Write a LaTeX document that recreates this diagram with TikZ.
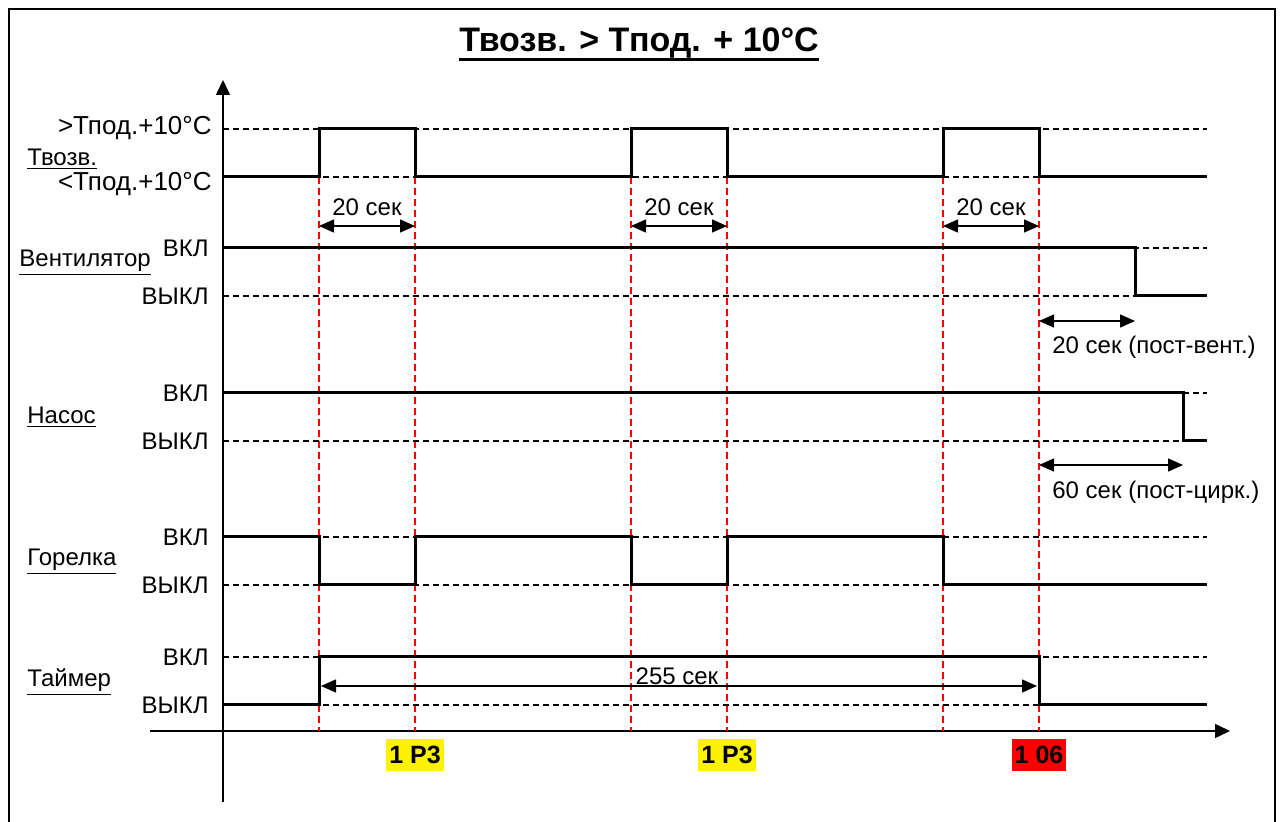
\documentclass[tikz,border=0pt]{standalone}
\usepackage{fontspec}
\setmainfont{Liberation Sans}
\usetikzlibrary{arrows.meta,positioning,calc}

\begin{document}
\begin{tikzpicture}[x=0.5pt,y=-0.5pt,
  sig/.style={line width=1.5pt},
  lvl/.style={line width=0.6pt,dash pattern=on 3pt off 2pt},
  redline/.style={red,line width=0.6pt,dash pattern=on 3.5pt off 2pt},
  dim/.style={{Triangle[length=7.5pt,width=6.5pt]}-{Triangle[length=7.5pt,width=6.5pt]},line width=0.75pt},
  lab/.style={font=\fontsize{12}{14}\selectfont,inner sep=0pt},
  code/.style={font=\bfseries\fontsize{12.5}{14}\selectfont,inner xsep=1.5pt,inner ysep=0pt,minimum height=16pt}]
  \useasboundingbox (0,0) rectangle (1282,822);
  \draw[line width=1pt] (9,9) rectangle (1275,840);
  % title
  \node[font=\bfseries\fontsize{17}{20}\selectfont,inner sep=0pt,anchor=base] (title) at (639,52) {Твозв. > Тпод. + 10°C};
  \draw[line width=1.5pt] ([yshift=-4pt]title.base west) -- ([yshift=-4pt]title.base east);
  % axes
  \draw[line width=0.75pt,-{Triangle[length=7.5pt,width=7pt]}] (223,802) -- (223,80);
  \draw[line width=0.75pt,-{Triangle[length=7.5pt,width=7pt]}] (150,731) -- (1230,731);
  % switching instants
  \foreach \x in {319,415,631,727,943,1039}
    \draw[redline] (\x,177) -- (\x,731);
  % levels
  \foreach \y in {129,177,248,296,393,441,537,585,657,705}
    \draw[lvl] (223,\y) -- (1207,\y);
  % signals
  \draw[sig] (223,177) -| (319,129) -| (415,177) -| (631,129) -| (727,177) -| (943,129) -| (1039,177) -- (1207,177);
  \draw[sig] (223,248) -| (1135,296) -- (1207,296);
  \draw[sig] (223,393) -| (1183,441) -- (1207,441);
  \draw[sig] (223,537) -| (319,585) -| (415,537) -| (631,585) -| (727,537) -| (943,585) -- (1207,585);
  \draw[sig] (223,705) -| (319,657) -| (1039,705) -- (1207,705);
  % left labels
  \node[lab,anchor=east,font=\fontsize{13}{15}\selectfont] (thi) at (212,128) {>Тпод.+10°C};
  \node[lab,anchor=west] (tret) at (27,159) {\underline{Твозв.}};
  \node[lab,anchor=east,font=\fontsize{13}{15}\selectfont] (tlo) at (212,184) {<Тпод.+10°C};
  \foreach \y/\n in {248/fan,393/pump,537/burn,657/timer} {
    \node[lab,anchor=east] (\n on) at (209,\y) {ВКЛ};
    \node[lab,anchor=east] (\n off) at (209,\y+48) {ВЫКЛ};
  }
  \node[lab,anchor=west] (fan) at (19,263) {\underline{Вентилятор}};
  \node[lab,anchor=west] (pump) at (27,417) {\underline{Насос}};
  \node[lab,anchor=west] (burn) at (27,562) {\underline{Горелка}};
  \node[lab,anchor=west] (timer) at (27,682) {\underline{Таймер}};
  % durations
  \foreach \a/\b in {319/415,631/727,943/1039} {
    \coordinate (l\a) at (\a,226);
    \coordinate (r\a) at (\b,226);
    \draw[dim] (l\a) -- (r\a) node[midway,above=5pt,lab] {20 сек};
  }
  \coordinate (fs) at (1039,321); \coordinate (fe) at (1135,321);
  \draw[dim] (fs) -- (fe);
  \node[lab,anchor=base west] (fanrun) at (1052,354) {20 сек (пост-вент.)};
  \coordinate (ps) at (1039,465); \coordinate (pe) at (1183,465);
  \draw[dim] (ps) -- (pe);
  \node[lab,anchor=base west] (pumprun) at (1052,499) {60 сек (пост-цирк.)};
  \coordinate (ts) at (321,686); \coordinate (te) at (1037,686);
  \draw[dim] (ts) -- (te);
  \node[lab,anchor=base] (tlen) at (677,685) {255 сек};
  % codes
  \node[code,fill=yellow] (p1) at (415,755) {1 Р3};
  \node[code,fill=yellow] (p2) at (727,755) {1 Р3};
  \node[code,fill=red] (e1) at (1039,755) {1 06};
\end{tikzpicture}
\end{document}
